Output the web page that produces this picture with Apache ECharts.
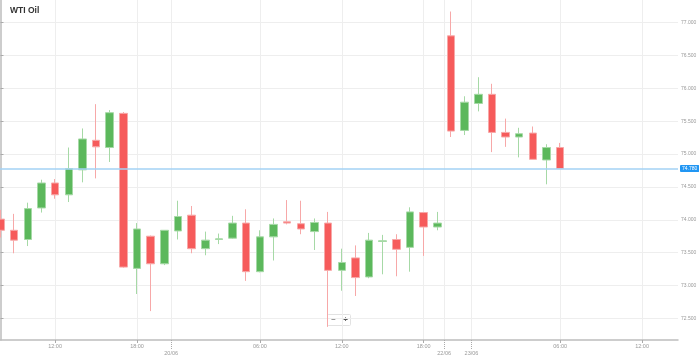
<!DOCTYPE html>
<html><head><meta charset="utf-8">
<script src="https://cdn.jsdelivr.net/npm/echarts@6/dist/echarts.min.js"></script>
<style>html,body{margin:0;padding:0;background:#fff}#c{width:699px;height:358px}</style>
</head><body><div id="c"></div>
<script>
// Hourly slots on a compressed trading-time axis (0 = 19/06 08:00)
const slots = [0,1,2,3,4,5,6,7,8,9,10,11,12,13,14,15,16,17,18,19,20,21,22,23,24,25,26,27,28,29,30,31,32,33,34,35,36,37,38,39,40,41];
const openValues  = [74.01,73.84,73.70,74.18,74.56,74.38,74.76,75.21,75.10,75.62,73.26,73.75,73.33,73.83,74.07,73.56,73.70,73.72,73.95,73.21,73.74,73.97,73.94,73.82,73.95,73.23,73.42,73.13,73.67,73.70,73.58,74.11,73.89,76.80,75.36,75.77,75.91,75.33,75.26,75.32,74.91,75.10];
const closeValues = [73.84,73.69,74.17,74.56,74.38,74.78,75.23,75.11,75.63,73.28,73.86,73.33,73.84,74.05,73.56,73.69,73.71,73.95,73.21,73.74,73.93,73.95,73.86,73.96,73.23,73.35,73.12,73.69,73.68,73.55,74.12,73.89,73.95,75.35,75.79,75.91,75.33,75.26,75.31,74.92,75.10,74.78];
const lowValues   = [73.73,73.49,73.60,74.11,74.32,74.27,74.57,74.63,74.88,73.27,72.87,72.61,73.31,73.70,73.49,73.46,73.63,73.71,73.07,73.20,73.38,73.93,73.78,73.54,72.37,72.92,72.84,73.11,73.17,73.14,73.21,73.45,73.84,75.26,75.29,75.65,75.03,75.11,74.95,74.92,74.54,74.78];
const highValues  = [74.15,74.09,74.26,74.61,74.62,75.10,75.39,75.76,75.67,75.64,73.95,73.76,73.84,74.29,74.21,73.82,73.79,74.06,74.16,73.84,74.02,74.30,74.29,74.02,74.12,73.56,73.61,73.80,73.77,73.78,74.19,74.12,74.12,77.17,75.88,76.17,76.07,75.54,75.40,75.42,75.15,75.17];
const timeTickSlots  = [4,10,19,25,31,41,47];
const timeTickLabels = ['12:00','18:00','06:00','12:00','18:00','06:00','12:00'];
const dateTickSlots  = [12.5,32.5,34.5];
const dateTickLabels = ['20/06','22/06','23/06'];
const priceTicks = [72.5,73,73.5,74,74.5,75,75.5,76,76.5,77];
const lastPrice = 74.78;
const titleText = 'WTI Oil';

const candleData = slots.map((s,i)=>[s, openValues[i], closeValues[i], lowValues[i], highValues[i]]);
function lookup(ticks, labels, v){
  let best=0; for(let i=0;i<ticks.length;i++){ if(Math.abs(ticks[i]-v)<Math.abs(ticks[best]-v)) best=i; }
  return labels[best];
}
const X_MIN=-0.037, X_MAX=49.63;
const FONT='Liberation Sans, Arial, sans-serif';
const chart = echarts.init(document.getElementById('c'), null, {renderer:'canvas'});
chart.setOption({
  animation:false,
  backgroundColor:'#fff',
  textStyle:{fontFamily:FONT},
  title:{text:titleText,left:10,top:6,padding:0,textStyle:{fontSize:8.5,fontWeight:'bold',color:'#333',fontFamily:FONT}},
  grid:{left:0,right:21,top:0,bottom:18,containLabel:false,outerBoundsMode:'none'},
  xAxis:[{
    type:'value',min:X_MIN,max:X_MAX,position:'bottom',
    axisLine:{show:true,lineStyle:{color:'#bdbdbd',width:1.5}},
    axisTick:{show:true,customValues:timeTickSlots,length:3,lineStyle:{color:'#aaa'}},
    axisLabel:{customValues:timeTickSlots,formatter:v=>lookup(timeTickSlots,timeTickLabels,v),fontSize:5.5,color:'#999',margin:3},
    splitLine:{show:true,lineStyle:{color:'#eeeeee',width:1}}
  },{
    type:'value',min:X_MIN,max:X_MAX,position:'bottom',offset:0,
    axisLine:{show:false},
    axisTick:{show:true,customValues:dateTickSlots,length:9,lineStyle:{color:'#aaa',type:'dotted'}},
    axisLabel:{customValues:dateTickSlots,formatter:v=>lookup(dateTickSlots,dateTickLabels,v),fontSize:5.5,color:'#999',margin:10},
    splitLine:{show:true,lineStyle:{color:'#eeeeee',width:1}}
  }],
  yAxis:{
    type:'value',position:'right',min:72.170,max:77.3455,scale:true,
    axisLine:{show:true,lineStyle:{color:'#bdbdbd',width:1.5}},
    axisTick:{show:true,customValues:priceTicks,length:3,lineStyle:{color:'#aaa'}},
    axisLabel:{customValues:priceTicks,formatter:v=>v.toFixed(3),fontSize:5,color:'#999',margin:3},
    splitLine:{show:true,lineStyle:{color:'#eeeeee',width:1}}
  },
  series:[{
    type:'candlestick',xAxisIndex:0,yAxisIndex:0,
    data:candleData,barWidth:8,
    itemStyle:{color:'#5cb85c',color0:'#f65b5b',borderColor:'#a6d9a6',borderColor0:'#f7a8a8',borderWidth:1},
    markLine:{silent:true,symbol:['none','none'],
      data:[{yAxis:lastPrice}],
      lineStyle:{color:'#a3d2f4',width:1.5,type:'solid'},
      label:{show:true,position:'end',distance:2,formatter:()=>lastPrice.toFixed(3),
        backgroundColor:'#2196f3',color:'#fff',fontSize:5,padding:[1,2],borderRadius:1}
    }
  }],
  graphic:[{
    type:'group',left:327,top:314,children:[
      {type:'rect',shape:{x:0,y:0,width:23,height:11,r:1},style:{fill:'#fff',stroke:'#e2e2e2',lineWidth:1}},
      {type:'text',style:{x:6,y:5.5,text:'−',fontSize:8,fill:'#555',align:'center',verticalAlign:'middle',fontFamily:FONT}},
      {type:'text',style:{x:18,y:5.5,text:'+',fontSize:8,fill:'#555',align:'center',verticalAlign:'middle',fontWeight:'bold',fontFamily:FONT}}
    ]
  }]
});
</script></body></html>
